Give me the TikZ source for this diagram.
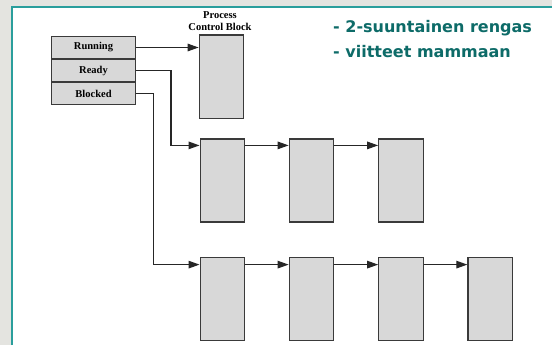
\documentclass[tikz,border=0pt]{standalone}
\usepackage{fontspec}
\setmainfont{Liberation Serif}
\newfontfamily\notefont{DejaVu Sans}
\usetikzlibrary{arrows.meta}
\definecolor{bgrey}{HTML}{E4E4E0}
\definecolor{tealline}{HTML}{2A9E9C}
\definecolor{tealtext}{HTML}{0D6B68}
\definecolor{boxfill}{HTML}{D8D8D8}
\definecolor{boxline}{HTML}{3A3A3A}
\tikzset{
  pbox/.style={draw=boxline, fill=boxfill, line width=1.2bp, minimum width=44.5bp, minimum height=83bp, inner sep=0pt},
  row/.style={draw=boxline, fill=boxfill, line width=1.2bp, minimum width=84bp, minimum height=21.8bp, inner sep=0pt, font=\fontsize{10.5bp}{12bp}\selectfont\bfseries},
  arr/.style={line width=1.2bp, draw=black!85, -{Triangle[length=11bp,width=7.5bp]}},
  note/.style={text=tealtext, anchor=west, inner sep=0pt, font=\notefont\fontsize{16bp}{18bp}\selectfont\bfseries}
}
\begin{document}
\begin{tikzpicture}[x=1bp,y=-1bp]
\useasboundingbox (0,0) rectangle (552,345);
\fill[bgrey] (0,0) rectangle (552,345);
\fill[white] (12,7) rectangle (552,345);
\draw[tealline, line width=1.5bp] (12,345) -- (12,7) -- (552,7);

% state table
\node[row] (run) at (93.5,47.5) {Running};
\node[row, anchor=north] (ready) at (run.south) {Ready};
\node[row, anchor=north] (blocked) at (ready.south) {Blocked};

% PCB
\node[pbox, minimum height=83.3bp] (pcb) at (221.5,76.7) {};
\node[align=center, inner sep=0pt, font=\fontsize{10.5bp}{12.6bp}\selectfont\bfseries] (pcblabel) at (220,21) {Process\\Control Block};

% ready list
\node[pbox] (a1) at (222.4,180.5) {};
\node[pbox] (a2) at (311.5,180.5) {};
\node[pbox] (a3) at (401,180.5) {};

% blocked list
\node[pbox] (b1) at (222.4,298.7) {};
\node[pbox] (b2) at (311.5,298.7) {};
\node[pbox] (b3) at (401,298.7) {};
\node[pbox] (b4) at (490.2,298.7) {};

\coordinate (rbend) at (171,0);
\coordinate (bbend) at (153.5,0);
\coordinate (a1in) at ([yshift=-7bp]a1.north west);
\coordinate (b1in) at ([yshift=-8bp]b1.north west);

\draw[arr] (run.east) -- (run.east -| pcb.west);
\draw[arr] (ready.east) -- (ready.east -| rbend) -- (rbend |- a1in) -- (a1in);
\draw[arr] (blocked.east) -- (blocked.east -| bbend) -- (bbend |- b1in) -- (b1in);

\draw[arr] ([yshift=-7bp]a1.north east) -- ([yshift=-7bp]a2.north west);
\draw[arr] ([yshift=-7bp]a2.north east) -- ([yshift=-7bp]a3.north west);

\draw[arr] ([yshift=-8bp]b1.north east) -- ([yshift=-8bp]b2.north west);
\draw[arr] ([yshift=-8bp]b2.north east) -- ([yshift=-8bp]b3.north west);
\draw[arr] ([yshift=-8bp]b3.north east) -- ([yshift=-8bp]b4.north west);

\node[note] (n1) at (333,28) {- 2-suuntainen rengas};
\node[note] (n2) at (333,51.5) {- viitteet mammaan};
\end{tikzpicture}
\end{document}
